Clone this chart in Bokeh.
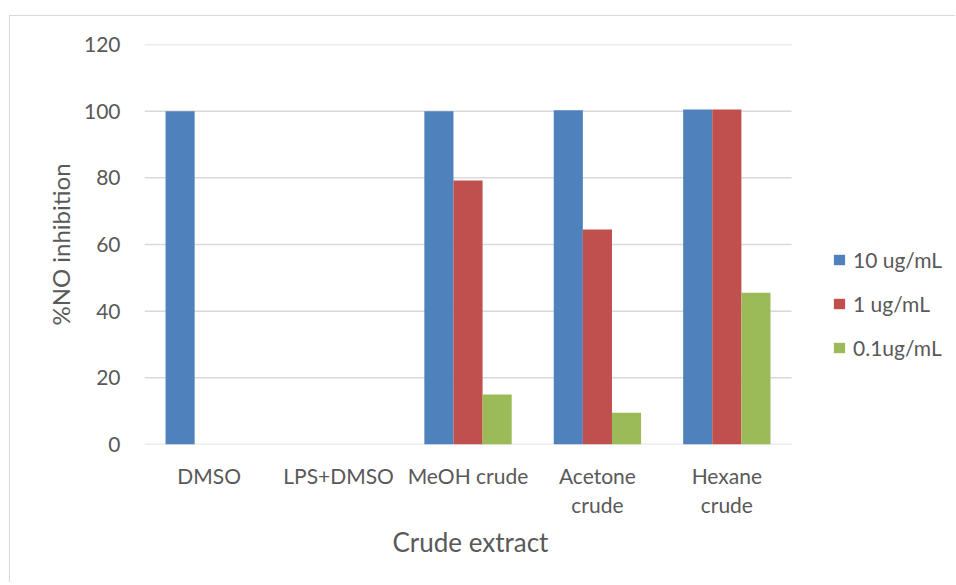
from bokeh.plotting import figure
from bokeh.models import (ColumnDataSource, Range1d, Legend, LegendItem,
                          FixedTicker, Title)
from bokeh.transform import dodge
from bokeh.embed import file_html
from bokeh.resources import INLINE

# Data
categories = ["DMSO", "LPS+DMSO", "MeOH crude", "Acetone\ncrude", "Hexane\ncrude"]
conc_10 = [100.0, 0.0, 100.0, 100.3, 100.5]
conc_1 = [0.0, 0.0, 79.2, 64.5, 100.5]
conc_01 = [0.0, 0.0, 15.0, 9.5, 45.5]
series_labels = ["10 ug/mL", "1 ug/mL", "0.1ug/mL"]
y_ticks = [0, 20, 40, 60, 80, 100, 120]
colors = ["#4F81BD", "#C0504D", "#9BBB59"]

FONT = "Lato"
TEXT = "#595959"
GRID = "#d9d9d9"

# category slots are centred on 0.5, 1.5, ...
slot = [i + 0.5 for i in range(len(categories))]
src = ColumnDataSource(dict(x=slot, cat=categories, c10=conc_10, c1=conc_1, c01=conc_01))

# the frame runs on to the right edge so the legend can sit inside it
p = figure(frame_width=811, frame_height=400, x_range=Range1d(0, 6.267),
           y_range=Range1d(0, 120), output_backend="svg", toolbar_location=None,
           min_border_left=134, min_border_right=0, min_border_top=28,
           min_border_bottom=138)
p.margin = (15, 0, 0, 9)
p.styles = {"border-left": "1.5px solid #d9d9d9", "border-top": "1.5px solid #d9d9d9"}

# horizontal gridlines limited to the category area
p.segment(x0=0, x1=len(categories), y0=y_ticks, y1=y_ticks,
          line_color=GRID, line_width=1.5)

bar_w = 0.225
renderers = []
for col, off, color in zip(["c10", "c1", "c01"], [-bar_w, 0.0, bar_w], colors):
    r = p.vbar(x=dodge("x", off), top=col, width=bar_w,
               source=src, fill_color=color, line_color=None)
    renderers.append(r)

# Axes
p.outline_line_color = None
p.xgrid.grid_line_color = None
p.ygrid.grid_line_color = None
p.yaxis.ticker = FixedTicker(ticks=y_ticks)
p.xaxis.ticker = FixedTicker(ticks=slot)
p.xaxis.major_label_overrides = {s: c for s, c in zip(slot, categories)}
for ax in (p.xaxis[0], p.yaxis[0]):
    ax.axis_line_color = None
    ax.major_tick_line_color = None
    ax.minor_tick_line_color = None
    ax.major_label_text_font = FONT
    ax.major_label_text_font_size = "21px"
    ax.major_label_text_color = TEXT

p.xaxis.major_label_text_line_height = 1.16
p.xaxis.major_label_standoff = 12

p.yaxis.axis_label = "%NO inhibition"
p.yaxis.axis_label_text_font = FONT
p.yaxis.axis_label_text_font_size = "24px"
p.yaxis.axis_label_text_color = TEXT
p.yaxis.axis_label_text_font_style = "normal"
p.yaxis.major_label_standoff = 18
p.yaxis.axis_label_standoff = 6

# x title centred under the category area rather than the whole frame
p.add_layout(Title(text="Crude extract", align="left", offset=248, standoff=8,
                   text_font=FONT, text_font_size="26px", text_color=TEXT,
                   text_font_style="normal"), "below")

legend = Legend(items=[LegendItem(label=l, renderers=[r])
                       for l, r in zip(series_labels, renderers)],
                location=(688, 84))
legend.label_text_font = FONT
legend.label_text_font_size = "21px"
legend.label_text_color = TEXT
legend.glyph_width = 14
legend.glyph_height = 13
legend.label_standoff = 7
legend.label_height = 20
legend.spacing = 19
legend.padding = 0
legend.margin = 0
legend.border_line_color = None
legend.background_fill_alpha = 0
p.add_layout(legend)

open("out.html", "w").write(file_html(p, INLINE))
